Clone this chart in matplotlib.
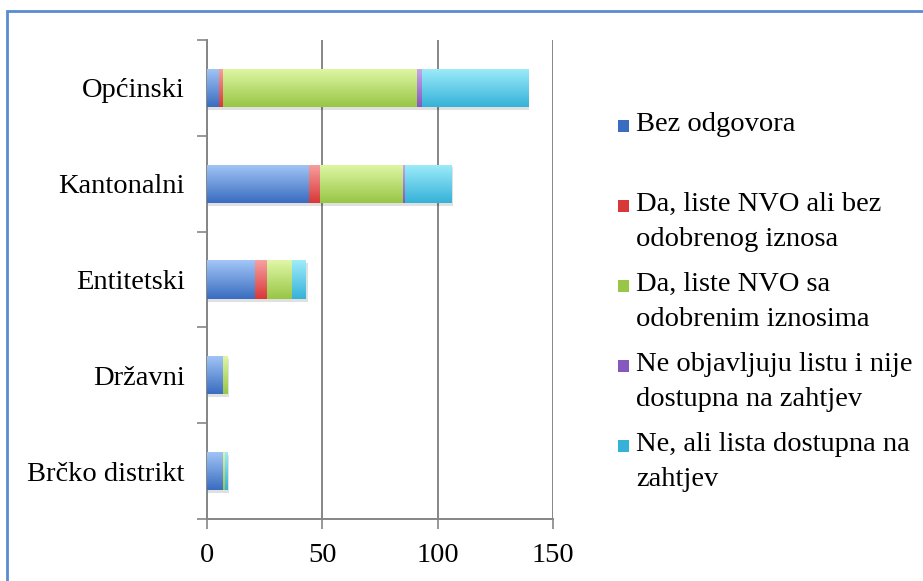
import numpy as np
import matplotlib
matplotlib.use("Agg")
import matplotlib.pyplot as plt
from matplotlib.colors import LinearSegmentedColormap
from matplotlib.patches import Rectangle

# Data
categories = ["Brčko distrikt", "Državni", "Entitetski", "Kantonalni", "Općinski"]
series = [
    "Bez odgovora",
    "Da, liste NVO ali bez\nodobrenog iznosa",
    "Da, liste NVO sa\nodobrenim iznosima",
    "Ne objavljuju listu i nije\ndostupna na zahtjev",
    "Ne, ali lista dostupna na\nzahtjev",
]
bez_odgovora = [7, 7, 21, 44, 5]
bez_iznosa = [0, 0, 5, 5, 2]
sa_iznosima = [1, 2, 11, 36, 84]
ne_objavljuju = [0, 0, 0, 1, 2]
dostupna = [1, 0, 6, 20, 46]
values = [bez_odgovora, bez_iznosa, sa_iznosima, ne_objavljuju, dostupna]
xticks = [0, 50, 100, 150]

# (top, bottom) gradient colours per series
shades = [
    ("#a2c6f7", "#3a6cc0"),
    ("#f7a0a0", "#d83838"),
    ("#e0f7a6", "#98c646"),
    ("#c6a8ea", "#8658bf"),
    ("#9eecfb", "#36b2d8"),
]

plt.rcParams['font.family'] = ['Liberation Serif', 'DejaVu Serif']
FS = 20.5

fig = plt.figure(figsize=(9.23, 5.81), dpi=100)
ax = fig.add_axes([0.2243, 0.1067, 0.3749, 0.8245])

y = np.arange(len(categories))
left = np.zeros(len(categories))
grad = np.linspace(0, 1, 64).reshape(-1, 1)
for vals, (top, bot) in zip(values, shades):
    bars = ax.barh(y, vals, left=left, height=0.4, color=bot, edgecolor='none', zorder=3)
    cmap = LinearSegmentedColormap.from_list("g", [bot, top])
    for r in bars:
        w = r.get_width()
        if w <= 0:
            continue
        x0, y0 = r.get_xy()
        im = ax.imshow(grad, extent=[x0, x0 + w, y0, y0 + r.get_height()], cmap=cmap,
                       aspect='auto', origin='lower', zorder=3.5, interpolation='bilinear')
        im.set_clip_path(r)
    left += np.array(vals)

# soft shadow under each stacked bar
for yi, tot in zip(y, left):
    ax.add_patch(Rectangle((0.6, yi - 0.2 - 0.03), tot, 0.4, facecolor='#000000',
                           alpha=0.12, edgecolor='none', zorder=2))

ax.set_xlim(0, 150)
ax.set_ylim(-0.5, len(categories) - 0.5)
ax.set_xticks(xticks)
ax.set_xticklabels([str(t) for t in xticks], fontsize=FS)
ax.set_yticks(y)
ax.set_yticklabels(categories, fontsize=FS)
ax.set_yticks(np.arange(-0.5, len(categories)), minor=True)
ax.tick_params(axis='y', which='major', length=0, pad=16)
ax.tick_params(axis='y', which='minor', length=7, color='#868686', width=1.2)
ax.tick_params(axis='x', length=7, color='#868686', width=1.2, pad=10)
ax.xaxis.grid(True, color='#868686', linewidth=1.4, zorder=0)
ax.set_axisbelow(True)
for s in ['top', 'right']:
    ax.spines[s].set_visible(False)
for s in ['left', 'bottom']:
    ax.spines[s].set_color('#868686')
    ax.spines[s].set_linewidth(1.4)

# legend drawn by hand: each entry gets a two-line slot, text top aligned
for i, (name, (top, bot)) in enumerate(zip(series, shades)):
    ty = 112 + i * 80
    sq = Rectangle((618 / 923, 1 - (ty + 20) / 581), 11 / 923, 12 / 581,
                   transform=fig.transFigure, facecolor=bot, edgecolor='none')
    fig.patches.append(sq)
    fig.text(636 / 923, 1 - ty / 581, name, fontsize=FS, va='top', ha='left',
             linespacing=1.5)

# document frame
fig.patches.append(Rectangle((7 / 923, -0.05), 1.0, 1 - 11 / 581 + 0.05,
                             transform=fig.transFigure, fill=False,
                             edgecolor='#5b8bd0', linewidth=2))

fig.savefig("out.png", dpi=100)
